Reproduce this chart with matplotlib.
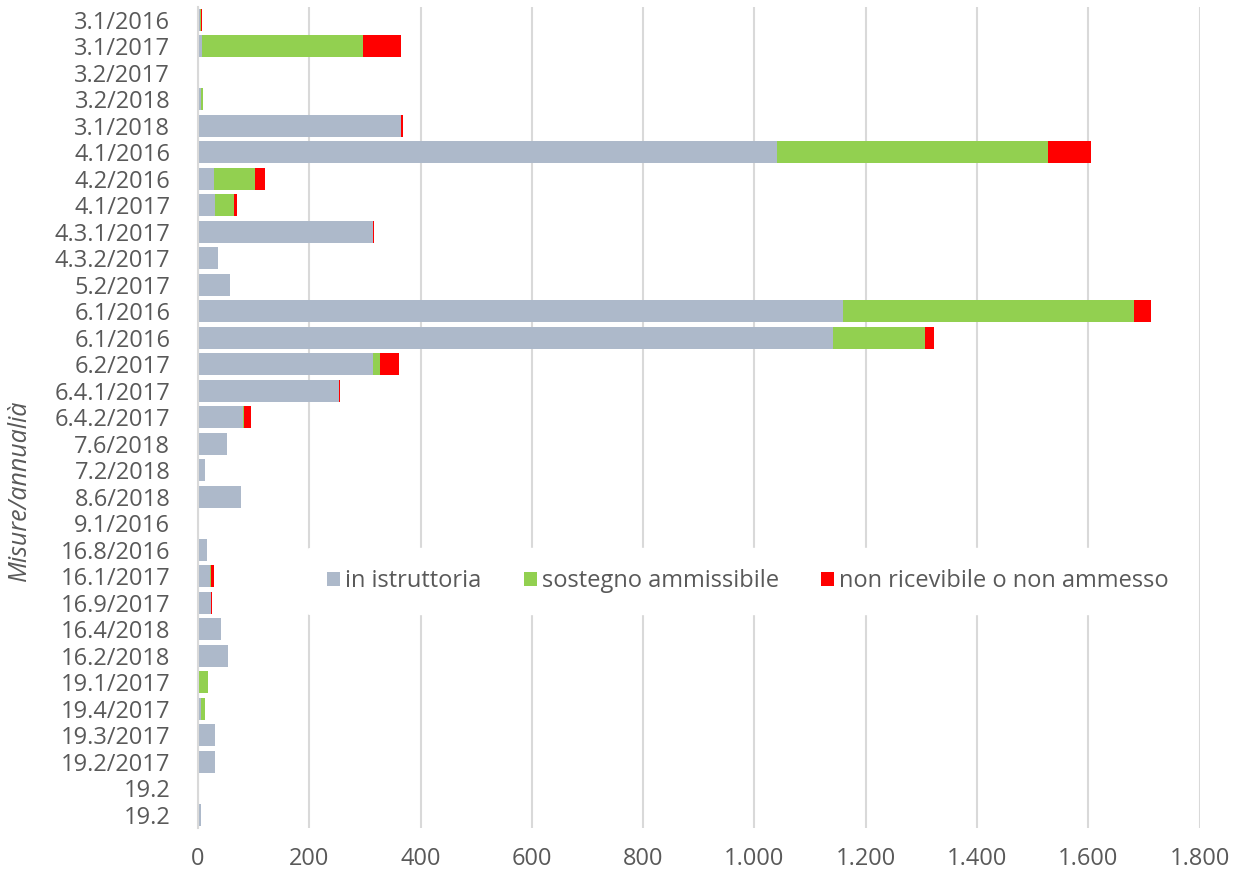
import matplotlib.pyplot as plt
from matplotlib.ticker import FuncFormatter

plt.rcParams['font.family'] = ['Open Sans', 'DejaVu Sans']

# categorie (dall'alto in basso)
misure = ['3.1/2016', '3.1/2017', '3.2/2017', '3.2/2018', '3.1/2018', '4.1/2016',
          '4.2/2016', '4.1/2017', '4.3.1/2017', '4.3.2/2017', '5.2/2017', '6.1/2016',
          '6.1/2016', '6.2/2017', '6.4.1/2017', '6.4.2/2017', '7.6/2018', '7.2/2018',
          '8.6/2018', '9.1/2016', '16.8/2016', '16.1/2017', '16.9/2017', '16.4/2018',
          '16.2/2018', '19.1/2017', '19.4/2017', '19.3/2017', '19.2/2017', '19.2', '19.2']

in_istruttoria = [3, 7, 0, 5, 365, 1041, 28, 31, 315, 35, 58, 1160,
                  1142, 315, 253, 80, 52, 12, 77, 0, 16, 21, 24, 41,
                  54, 1, 6, 31, 31, 0, 5]
sostegno = [2, 290, 0, 4, 0, 486, 74, 34, 0, 0, 0, 523,
            165, 12, 0, 3, 0, 0, 0, 1, 0, 3, 0, 0,
            0, 17, 7, 0, 0, 0, 0]
non_ricevibile = [3, 67, 0, 0, 3, 77, 19, 5, 1, 0, 0, 29,
                  16, 35, 2, 12, 0, 0, 0, 0, 0, 4, 1, 0,
                  0, 0, 0, 0, 0, 0, 0]

c_grey = '#ADB9CA'
c_green = '#92D050'
c_red = '#FF0000'
txt = '#595959'

fig = plt.figure(figsize=(12.4, 8.75), dpi=100)
ax = fig.add_axes([0.1597, 0.0537, 0.8077, 0.9386])

y = list(range(len(misure)))
h = 0.83
left2 = [a + b for a, b in zip(in_istruttoria, sostegno)]
ax.barh(y, in_istruttoria, height=h, color=c_grey, label='in istruttoria', zorder=3)
ax.barh(y, sostegno, left=in_istruttoria, height=h, color=c_green,
        label='sostegno ammissibile', zorder=3)
ax.barh(y, non_ricevibile, left=left2, height=h, color=c_red,
        label='non ricevibile o non ammesso', zorder=3)

ax.set_ylim(len(misure) - 0.5, -0.5)
ax.set_yticks(y)
ax.set_yticklabels(misure)
ax.set_xlim(0, 1800)
ax.set_xticks(range(0, 1801, 200))
ax.xaxis.set_major_formatter(FuncFormatter(lambda v, p: f"{int(v):,}".replace(',', '.')))

ax.grid(axis='x', color='#D9D9D9', linewidth=1.5, zorder=0)
for s in ['top', 'right', 'bottom']:
    ax.spines[s].set_visible(False)
ax.spines['left'].set_color('#D9D9D9')
ax.spines['left'].set_linewidth(1.5)
ax.spines['left'].set_zorder(4)
ax.tick_params(axis='both', length=0, labelsize=17, colors=txt)
ax.tick_params(axis='y', pad=20)
ax.tick_params(axis='x', pad=14)

fig.text(0.016, 0.44, 'Misure/annualià', rotation=90, style='italic',
         fontsize=18, color=txt, ha='center', va='center')

leg = ax.legend(loc='center', bbox_to_anchor=(748 / 1240, 1 - 581 / 875),
                bbox_transform=fig.transFigure, ncol=3, frameon=True,
                fontsize=17, handlelength=0.55, handleheight=0.55,
                handletextpad=0.2, columnspacing=1.8, borderpad=0.9)
leg.get_frame().set_facecolor('white')
leg.get_frame().set_edgecolor('white')
leg.get_frame().set_alpha(1)
leg.set_zorder(5)
for t in leg.get_texts():
    t.set_color(txt)

fig.savefig('out.png', dpi=100)
